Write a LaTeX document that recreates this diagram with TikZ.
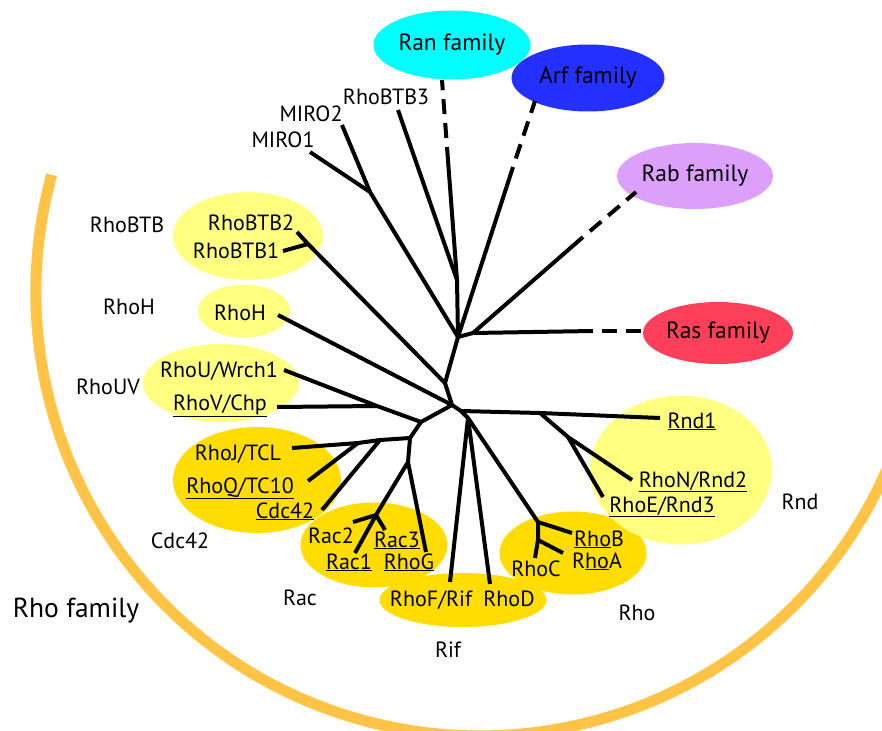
\documentclass[tikz,border=0pt]{standalone}
\usepackage{fontspec}
\setmainfont{PT Sans}
\usetikzlibrary{shapes.geometric}
\definecolor{rancol}{RGB}{0,255,255}
\definecolor{arfcol}{RGB}{36,48,255}
\definecolor{rabcol}{RGB}{221,160,250}
\definecolor{rascol}{RGB}{255,64,90}
\definecolor{palegrp}{RGB}{255,255,128}
\definecolor{goldgrp}{RGB}{255,221,0}
\definecolor{arccol}{RGB}{255,196,70}
\begin{document}
\begin{tikzpicture}[x=1pt,y=-1pt,
	branch/.style={line width=4pt, line join=round},
	famlink/.style={line width=4pt, dash pattern=on 15pt off 9pt, dash phase=15pt},
	leaf/.style={anchor=base, inner sep=0pt, font=\fontsize{22}{24}\selectfont},
	fam/.style={ellipse, inner sep=0pt, font=\fontsize{23.5}{26}\selectfont},
	palezone/.style={ellipse, fill=palegrp, inner sep=0pt},
	goldzone/.style={ellipse, fill=goldgrp, inner sep=0pt}]
	\useasboundingbox (0,0) rectangle (882,730);
	\clip (0,0) rectangle (882,730);

	% zones behind the tree
	\node (cdcZ) at (257,480)	[goldzone, minimum width=168pt, minimum height=106pt]	{};
	\node (racZ) at (374,545)	[goldzone, minimum width=147pt, minimum height=85pt]	{};
	\node (rifZ) at (463,600)	[goldzone, minimum width=167pt, minimum height=54pt]	{};
	\node (rhoZ) at (573,553)	[goldzone, minimum width=147pt, minimum height=83pt]	{};
	\node (rndZ) at (681,470)	[palezone, minimum width=182pt, minimum height=149pt]	{};
	\node (btbZ) at (248,236)	[palezone, minimum width=150pt, minimum height=88pt]	{};
	\node (rhoHZ) at (244,311)	[palezone, minimum width=92pt, minimum height=53pt]	{};
	\node (uvZ) at (221,383)	[palezone, minimum width=156pt, minimum height=78pt]	{};

	% other families
	\node (ran) at (452,45)		[fam, fill=rancol, minimum width=157pt, minimum height=69pt]	{Ran family};
	\node (arf) at (588,78)		[fam, fill=arfcol, minimum width=153pt, minimum height=67pt]	{Arf family};
	\node (rab) at (695,176)	[fam, fill=rabcol, minimum width=156pt, minimum height=66pt]	{Rab family};
	\node (ras) at (718,333)	[fam, fill=rascol, minimum width=150pt, minimum height=62pt]	{Ras family};

	% Rho family arc
	\draw[arccol, line width=11pt] (51.7,174.8) arc[start angle=195.3, end angle=15, radius=444];

	% inner points of the tree
	\coordinate (hub) at (458,337);
	\coordinate (K) at (473,333);
	\coordinate (J1) at (457,280);
	\coordinate (MI) at (370,192);
	\coordinate (B) at (445,383);
	\coordinate (C) at (452,405);
	\coordinate (CR) at (461,411);
	\coordinate (H) at (468,418);
	\coordinate (D) at (421,422);
	\coordinate (UV) at (377,406);
	\coordinate (E) at (410,438);
	\coordinate (CA) at (380,440);
	\coordinate (CB) at (358,443);
	\coordinate (F) at (408,462);
	\coordinate (G) at (376,515);
	\coordinate (BT) at (308,244);
	\coordinate (RA) at (540,413);
	\coordinate (RB) at (568,437);
	\coordinate (RK) at (538,522);
	\coordinate (RM) at (538,540);

	% branch tips
	\coordinate (ranS) at (447,147);	\coordinate (ranT) at (442,80);
	\coordinate (arfS) at (513,167);	\coordinate (arfT) at (535,101);
	\coordinate (rabS) at (583,237);	\coordinate (rabT) at (636,192);
	\coordinate (rasS) at (593,331);	\coordinate (rasT) at (644,331);
	\coordinate (t1) at (310,152);
	\coordinate (t2) at (342,125);
	\coordinate (t3) at (398,110);
	\coordinate (t4) at (297,232);
	\coordinate (t5) at (283,251);
	\coordinate (t6) at (278,315);
	\coordinate (t7) at (284,370);
	\coordinate (t8) at (277,407);
	\coordinate (t9) at (292,448);
	\coordinate (t10) at (308,481);
	\coordinate (t11) at (322,510);
	\coordinate (t12) at (353,522);
	\coordinate (t13) at (355,553);
	\coordinate (t14) at (385,530);
	\coordinate (t15) at (426,552);
	\coordinate (t16) at (450,582);
	\coordinate (t17) at (490,584);
	\coordinate (t18) at (572,533);
	\coordinate (t19) at (563,553);
	\coordinate (t20) at (535,558);
	\coordinate (t21) at (660,418);
	\coordinate (t22) at (632,480);
	\coordinate (t23) at (603,497);

	% tree
	\draw[branch] (t1) -- (MI) -- (hub);
	\draw[branch] (t2) -- (MI);
	\draw[branch] (t3) -- (J1) -- (hub);
	\draw[branch] (J1) -- (ranS);
	\draw[branch] (hub) -- (arfS);
	\draw[branch] (hub) -- (K) -- (rasS);
	\draw[branch] (K) -- (rabS);
	\draw[famlink] (ranS) -- (ranT);
	\draw[famlink] (arfS) -- (arfT);
	\draw[famlink] (rabS) -- (rabT);
	\draw[famlink] (rasS) -- (rasT);
	\draw[branch] (hub) -- (B) -- (C) -- (CR) -- (H);
	\draw[branch] (t4) -- (BT) -- (B);
	\draw[branch] (t5) -- (BT);
	\draw[branch] (t6) -- (C);
	\draw[branch] (C) -- (D) -- (E) -- (F);
	\draw[branch] (t7) -- (UV) -- (D);
	\draw[branch] (t8) -- (UV);
	\draw[branch] (E) -- (CA) -- (CB) -- (t9);
	\draw[branch] (t11) -- (CA);
	\draw[branch] (t10) -- (CB);
	\draw[branch] (F) -- (G) -- (t13);
	\draw[branch] (t12) -- (G) -- (t14);
	\draw[branch] (F) -- (t15);
	\draw[branch] (t16) -- (H) -- (t17);
	\draw[branch] (H) -- (RK) -- (t18);
	\draw[branch] (RK) -- (RM) -- (t20);
	\draw[branch] (RM) -- (t19);
	\draw[branch] (CR) -- (RA) -- (t21);
	\draw[branch] (RA) -- (RB) -- (t22);
	\draw[branch] (RB) -- (t23);

	% leaf names
	\node (miro1) at (283,148)	[leaf]	{MIRO1};
	\node (miro2) at (311,122)	[leaf]	{MIRO2};
	\node (btb3) at (386,105)	[leaf]	{RhoBTB3};
	\node (btb2) at (251,230)	[leaf]	{RhoBTB2};
	\node (btb1) at (236,258)	[leaf]	{RhoBTB1};
	\node (rhoH) at (240,320)	[leaf]	{RhoH};
	\node (rhoU) at (219,377)	[leaf]	{RhoU/Wrch1};
	\node (rhoV) at (220,410)	[leaf]	{\underline{RhoV/Chp}};
	\node (rhoJ) at (238,460)	[leaf]	{RhoJ/TCL};
	\node (rhoQ) at (240,493)	[leaf]	{\underline{RhoQ/TC10}};
	\node (cdc42) at (285,518)	[leaf]	{\underline{Cdc42}};
	\node (rac2) at (331,543)	[leaf]	{Rac2};
	\node (rac3) at (397,547)	[leaf]	{\underline{Rac3}};
	\node (rac1) at (349,569)	[leaf]	{\underline{Rac1}};
	\node (rhoG) at (409,569)	[leaf]	{\underline{RhoG}};
	\node (rhoF) at (431,606)	[leaf]	{RhoF/Rif};
	\node (rhoD) at (509,606)	[leaf]	{RhoD};
	\node (rhoC) at (536,576)	[leaf]	{RhoC};
	\node (rhoB) at (599,546)	[leaf]	{\underline{Rho}B};
	\node (rhoA) at (597,568)	[leaf]	{R\underline{ho}A};
	\node (rnd1) at (692,428)	[leaf]	{\underline{Rnd1}};
	\node (rnd2) at (693,487)	[leaf]	{\underline{RhoN/Rnd2}};
	\node (rnd3) at (662,512)	[leaf]	{\underline{RhoE/Rnd3}};

	% subfamily names
	\node (gBTB) at (127,232)	[leaf]	{RhoBTB};
	\node (gH) at (129,314)		[leaf]	{RhoH};
	\node (gUV) at (108,394)	[leaf]	{RhoUV};
	\node (gCdc) at (180,548)	[leaf]	{Cdc42};
	\node (gRac) at (300,605)	[leaf]	{Rac};
	\node (gRif) at (448,657)	[leaf]	{Rif};
	\node (gRho) at (637,620)	[leaf]	{Rho};
	\node (gRnd) at (800,509)	[leaf]	{Rnd};
	\node (rhofam) at (76,617)	[leaf, font=\fontsize{27.5}{30}\selectfont]	{Rho family};
\end{tikzpicture}
\end{document}
